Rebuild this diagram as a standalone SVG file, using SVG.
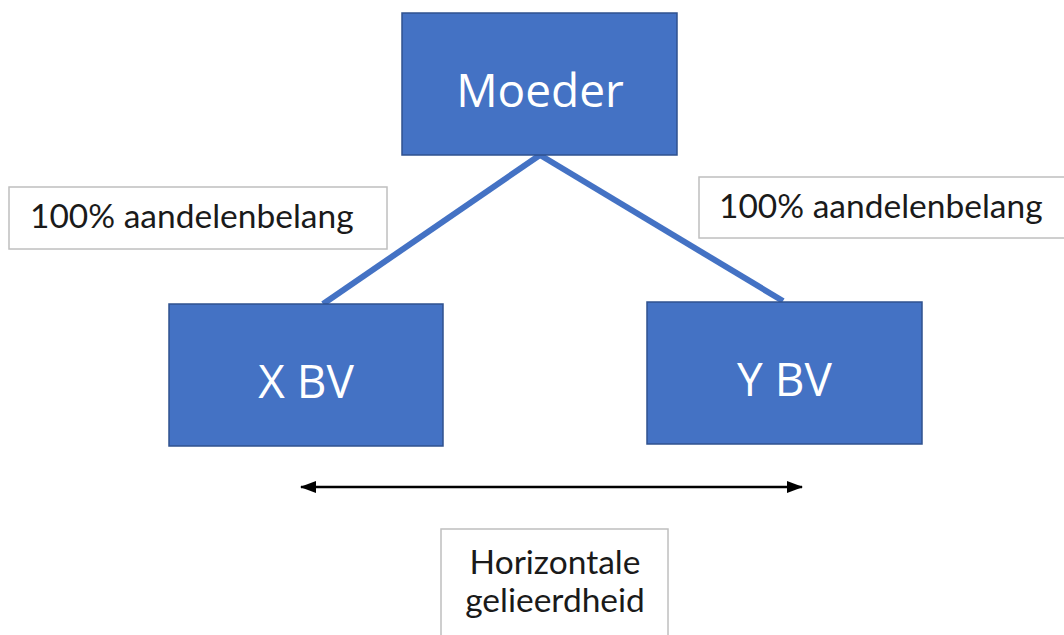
<svg xmlns="http://www.w3.org/2000/svg" width="1064" height="635" viewBox="0 0 1064 635">
<style>
.node{fill:#4472C4;stroke:#2F528F;stroke-width:1.5}
.nt{font-family:"Open Sans","Liberation Sans",sans-serif;fill:#fff;text-anchor:middle}
.lbl{fill:#fff;stroke:#BFBFBF;stroke-width:1.5}
.lt{font-family:Lato,"Liberation Sans",sans-serif;fill:#1a1a1a;font-size:33.5px}
.edge{stroke:#4472C4;stroke-width:6;fill:none}
</style>
<defs>
<marker id="ah" viewBox="0 0 16 12" refX="15" refY="6" markerWidth="16" markerHeight="12" orient="auto-start-reverse" markerUnits="userSpaceOnUse">
<path d="M0,0 L16,6 L0,12 z" fill="#000"/>
</marker>
</defs>
<rect width="1064" height="635" fill="#fff"/>
<g id="connectors">
<line class="edge" x1="540" y1="155" x2="323" y2="304"/>
<line class="edge" x1="540" y1="155" x2="783" y2="301"/>
<line x1="301" y1="487" x2="802" y2="487" stroke="#000" stroke-width="2.5" marker-start="url(#ah)" marker-end="url(#ah)"/>
</g>
<g id="moeder">
<rect class="node" x="402" y="13" width="275" height="142"/>
<text class="nt" x="540" y="107" font-size="46">Moeder</text>
</g>
<g id="xbv">
<rect class="node" x="169" y="304" width="274" height="142"/>
<text class="nt" x="306" y="398" font-size="46">X BV</text>
</g>
<g id="ybv">
<rect class="node" x="647" y="302" width="275" height="142"/>
<text class="nt" x="784.5" y="396" font-size="46">Y BV</text>
</g>
<g id="label-left">
<rect class="lbl" x="9" y="187" width="378" height="62"/>
<text class="lt" x="30" y="228">100% aandelenbelang</text>
</g>
<g id="label-right">
<rect class="lbl" x="699" y="177" width="380" height="61"/>
<text class="lt" x="719" y="218">100% aandelenbelang</text>
</g>
<g id="label-bottom">
<rect class="lbl" x="441" y="529" width="227" height="120"/>
<text class="lt" x="555" y="574" text-anchor="middle">Horizontale</text>
<text class="lt" x="555" y="612" text-anchor="middle">gelieerdheid</text>
</g>
</svg>
